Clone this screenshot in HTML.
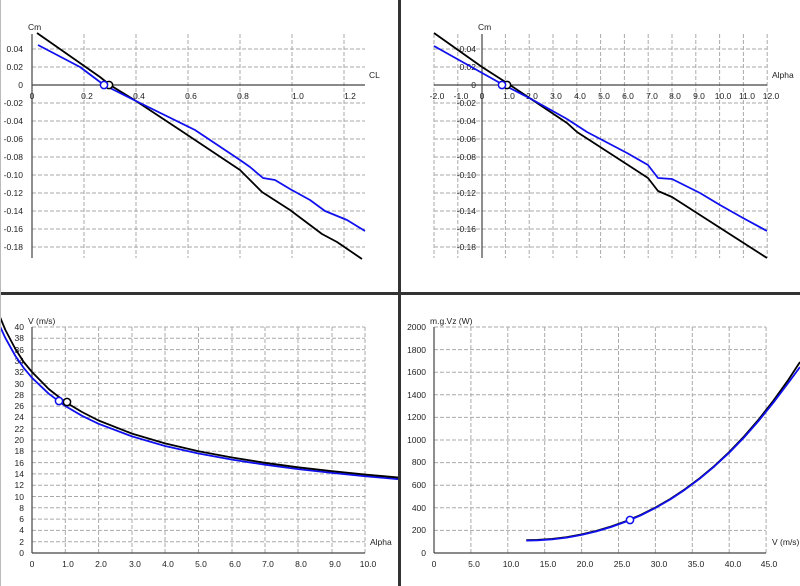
<!DOCTYPE html>
<html><head><meta charset="utf-8"><style>
html,body{margin:0;padding:0;background:#fff;}
svg{display:block;font-family:"Liberation Sans",sans-serif;font-size:8.5px;fill:#222;}
.g{stroke:#aaa;stroke-width:1;stroke-dasharray:4,2;fill:none}
.a{stroke:#444;stroke-width:1.2;fill:none}
.k{stroke:#000;stroke-width:1.8;fill:none;stroke-linejoin:round}
.b{stroke:#1010ee;stroke-width:1.8;fill:none;stroke-linejoin:round}
</style></head><body>
<svg width="800" height="586" viewBox="0 0 800 586">
<rect x="0" y="0" width="800" height="586" fill="#fff"/>
<!-- Panel 1 -->
<path class="g" d="M84 34V258M136 34V258M188 34V258M240 34V258M292 34V258M344 34V258M32 49H365M32 67H365M32 103H365M32 121H365M32 139H365M32 157H365M32 175H365M32 193H365M32 211H365M32 229H365M32 247H365"/>
<path class="a" d="M32 34V258M32 85H365"/>
<g text-anchor="end"><text x="23" y="52">0.04</text><text x="23" y="70">0.02</text><text x="23" y="88">0</text><text x="23" y="106">-0.02</text><text x="23" y="124">-0.04</text><text x="23" y="142">-0.06</text><text x="23" y="160">-0.08</text><text x="23" y="178">-0.10</text><text x="23" y="196">-0.12</text><text x="23" y="214">-0.14</text><text x="23" y="232">-0.16</text><text x="23" y="250">-0.18</text></g>
<g text-anchor="middle"><text x="32" y="99">0</text><text x="87" y="99">0.2</text><text x="139" y="99">0.4</text><text x="191" y="99">0.6</text><text x="243" y="99">0.8</text><text x="298" y="99">1.0</text><text x="350" y="99">1.2</text></g>
<text x="28" y="30">Cm</text><text x="369" y="78">CL</text>
<polyline class="k" points="37,33 100,77 110,85 136,101 180,130 240,170 248,178 262,192 290,210 322,234 337,242 362,259"/>
<polyline class="b" points="38,45 80,67 104,85 136,101 195,130 240,160 250,167 263,178 275,180 290,189 310,200 325,211 347,220 365,231"/>
<circle cx="109" cy="85" r="3.6" fill="#fff" stroke="#000" stroke-width="1.5"/>
<circle cx="104" cy="85" r="3.6" fill="#fff" stroke="#1010ee" stroke-width="1.5"/>
<!-- Panel 2 -->
<path class="g" d="M434 34V258M457.8 34V258M505.4 34V258M529.2 34V258M553 34V258M576.8 34V258M600.6 34V258M624.4 34V258M648.2 34V258M672 34V258M695.8 34V258M719.6 34V258M743.4 34V258M767.2 34V258M434 49H767M434 67H767M434 103H767M434 121H767M434 139H767M434 157H767M434 175H767M434 193H767M434 211H767M434 229H767M434 247H767"/>
<path class="a" d="M482 34V258M434 85H767"/>
<g text-anchor="end"><text x="476" y="52">0.04</text><text x="476" y="70">0.02</text><text x="476" y="88">0</text><text x="476" y="106">-0.02</text><text x="476" y="124">-0.04</text><text x="476" y="142">-0.06</text><text x="476" y="160">-0.08</text><text x="476" y="178">-0.10</text><text x="476" y="196">-0.12</text><text x="476" y="214">-0.14</text><text x="476" y="232">-0.16</text><text x="476" y="250">-0.18</text></g>
<g text-anchor="middle"><text x="437" y="99">-2.0</text><text x="461" y="99">-1.0</text><text x="482" y="99">0</text><text x="509" y="99">1.0</text><text x="532" y="99">2.0</text><text x="556" y="99">3.0</text><text x="580" y="99">4.0</text><text x="604" y="99">5.0</text><text x="628" y="99">6.0</text><text x="652" y="99">7.0</text><text x="675" y="99">8.0</text><text x="699" y="99">9.0</text><text x="723" y="99">10.0</text><text x="747" y="99">11.0</text><text x="771" y="99">12.0</text></g>
<text x="478" y="30">Cm</text><text x="772" y="78">Alpha</text>
<polyline class="k" points="434,33 482,67 510,85 567,123 577,132 648,178 658,191 672,197 767,258"/>
<polyline class="b" points="434,46 500,83 533,100 567,119 587,132 627,153 648,165 658,178 672,179 700,193 720,205 743,218 767,231"/>
<circle cx="507" cy="85" r="3.6" fill="#fff" stroke="#000" stroke-width="1.5"/>
<circle cx="502" cy="85" r="3.6" fill="#fff" stroke="#1010ee" stroke-width="1.5"/>
<!-- Panel 3 -->
<path class="g" d="M65.3 327V553M98.6 327V553M132 327V553M165 327V553M198.5 327V553M232 327V553M265 327V553M298 327V553M332 327V553M365 327V553M32 541.7H365M32 530.4H365M32 519.1H365M32 507.8H365M32 496.5H365M32 485.2H365M32 473.9H365M32 462.6H365M32 451.3H365M32 440H365M32 428.7H365M32 417.4H365M32 406.1H365M32 394.8H365M32 383.5H365M32 372.2H365M32 360.9H365M32 349.6H365M32 338.3H365M32 327H365"/>
<path class="a" d="M32 327V553M32 553H365"/>
<g text-anchor="end"><text x="24" y="556">0</text><text x="24" y="545">2</text><text x="24" y="533">4</text><text x="24" y="522">6</text><text x="24" y="511">8</text><text x="24" y="500">10</text><text x="24" y="488">12</text><text x="24" y="477">14</text><text x="24" y="466">16</text><text x="24" y="454">18</text><text x="24" y="443">20</text><text x="24" y="432">22</text><text x="24" y="420">24</text><text x="24" y="409">26</text><text x="24" y="398">28</text><text x="24" y="387">30</text><text x="24" y="375">32</text><text x="24" y="364">34</text><text x="24" y="353">36</text><text x="24" y="341">38</text><text x="24" y="330">40</text></g>
<g text-anchor="middle"><text x="32" y="567">0</text><text x="68" y="567">1.0</text><text x="101" y="567">2.0</text><text x="135" y="567">3.0</text><text x="168" y="567">4.0</text><text x="201" y="567">5.0</text><text x="235" y="567">6.0</text><text x="268" y="567">7.0</text><text x="301" y="567">8.0</text><text x="335" y="567">9.0</text><text x="368" y="567">10.0</text></g>
<text x="28" y="324">V (m/s)</text><text x="370" y="545">Alpha</text>
<polyline class="b" points="0,326.4 5.4,338.1 15.4,356 23.7,367.9 32,377.8 48.7,393.7 65.3,406 82,415.8 98.6,423.8 132,436.4 165,446 198.5,453.5 232,459.6 265,464.7 298,469.1 332,472.8 365,476.2 400,479.3"/>
<polyline class="k" points="0,317 5.4,330 15.4,349 23.7,362 32,372 48.7,389 65.3,402 82,412 98.6,420.5 132,433.6 165,443.4 198.5,451.2 232,457.5 265,462.8 298,467.3 332,471.1 365,474.5 400,477.7"/>
<circle cx="67" cy="402" r="3.6" fill="#fff" stroke="#000" stroke-width="1.5"/>
<circle cx="59" cy="401" r="3.6" fill="#fff" stroke="#1010ee" stroke-width="1.5"/>
<!-- Panel 4 -->
<path class="g" d="M470.9 327V553M507.8 327V553M544.7 327V553M581.6 327V553M618.5 327V553M655.4 327V553M692.3 327V553M729.2 327V553M766.1 327V553M434 530.4H766M434 507.8H766M434 485.2H766M434 462.6H766M434 440H766M434 417.4H766M434 394.8H766M434 372.2H766M434 349.6H766M434 327H766"/>
<path class="a" d="M434 327V553M434 553H766"/>
<g text-anchor="end"><text x="426" y="556">0</text><text x="426" y="533">200</text><text x="426" y="511">400</text><text x="426" y="488">600</text><text x="426" y="465">800</text><text x="426" y="443">1000</text><text x="426" y="420">1200</text><text x="426" y="398">1400</text><text x="426" y="375">1600</text><text x="426" y="353">1800</text><text x="426" y="330">2000</text></g>
<g text-anchor="middle"><text x="434" y="567">0</text><text x="474" y="567">5.0</text><text x="511" y="567">10.0</text><text x="548" y="567">15.0</text><text x="585" y="567">20.0</text><text x="622" y="567">25.0</text><text x="659" y="567">30.0</text><text x="696" y="567">35.0</text><text x="733" y="567">40.0</text><text x="769" y="567">45.0</text></g>
<text x="430" y="324">m.g.Vz (W)</text><text x="772" y="545">V (m/s)</text>
<polyline class="k" points="526.3,540.1 537.3,539.9 552.1,538.9 566.8,537.1 581.6,534.4 596.4,530.9 611.1,526.5 625.9,521.2 640.6,514.9 655.4,507.5 670.2,499 684.9,489.2 699.7,478.2 714.4,465.9 729.2,452 744,436.5 758.7,419.5 773.5,400.5 788.2,380 800,362"/>
<polyline class="b" points="526.3,540.6 537.3,540.4 552.1,539.4 566.8,537.6 581.6,534.9 596.4,531.4 611.1,527 625.9,521.7 640.6,515.4 655.4,508 670.2,499.5 684.9,489.7 699.7,478.7 714.4,466.4 729.2,452.7 744,437.5 758.7,420.8 773.5,402.4 788.2,383 800,367"/>
<circle cx="630" cy="520" r="3.6" fill="#fff" stroke="#1010ee" stroke-width="1.5"/>
<!-- Dividers -->
<rect x="398" y="0" width="3" height="586" fill="#333"/>
<rect x="0" y="292" width="800" height="3" fill="#333"/>
<rect x="0" y="0" width="1" height="586" fill="#bbb"/>
</svg>
</body></html>
